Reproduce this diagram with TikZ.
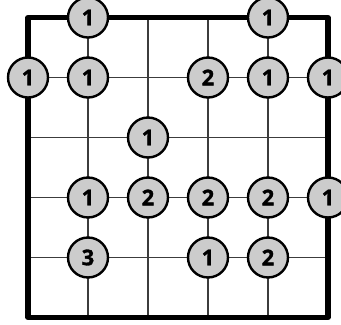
\documentclass[tikz,border=0pt]{standalone}
\usepackage{fontspec}
\setsansfont{Open Sans}[BoldFeatures={FakeBold=1.5}]
\definecolor{cluegray}{RGB}{204,204,204}
\definecolor{gridgray}{RGB}{60,60,60}
\tikzset{
    clue/.style={circle, draw=black, fill=cluegray, line width=1.7pt,
        minimum size=1.0cm, inner sep=0pt, font=\sffamily\bfseries\fontsize{15.5}{15.5}\selectfont},
    gridline/.style={draw=gridgray, line width=0.9pt},
    frame/.style={draw=black, line width=3.6pt, line join=round}
}
\begin{document}
\begin{tikzpicture}[x=1.5cm, y=1.5cm]
    \useasboundingbox (-0.4667,-0.125) rectangle (5.2167,5.2917);
    % grid
    \foreach \i in {1,...,4} {
        \draw[gridline] (\i,0) -- (\i,5);
        \draw[gridline] (0,\i) -- (5,\i);
    }
    \draw[frame] (0,0) rectangle (5,5);

    % clues, row by row from the top
    \node[clue] (c10) at (1,5) {1}; \node[clue] (c40) at (4,5) {1};

    \node[clue] (c01) at (0,4) {1}; \node[clue] (c11) at (1,4) {1};
    \node[clue] (c31) at (3,4) {2}; \node[clue] (c41) at (4,4) {1};
    \node[clue] (c51) at (5,4) {1};

    \node[clue] (c22) at (2,3) {1};

    \node[clue] (c13) at (1,2) {1}; \node[clue] (c23) at (2,2) {2};
    \node[clue] (c33) at (3,2) {2}; \node[clue] (c43) at (4,2) {2};
    \node[clue] (c53) at (5,2) {1};

    \node[clue] (c14) at (1,1) {3}; \node[clue] (c34) at (3,1) {1};
    \node[clue] (c44) at (4,1) {2};
\end{tikzpicture}
\end{document}
